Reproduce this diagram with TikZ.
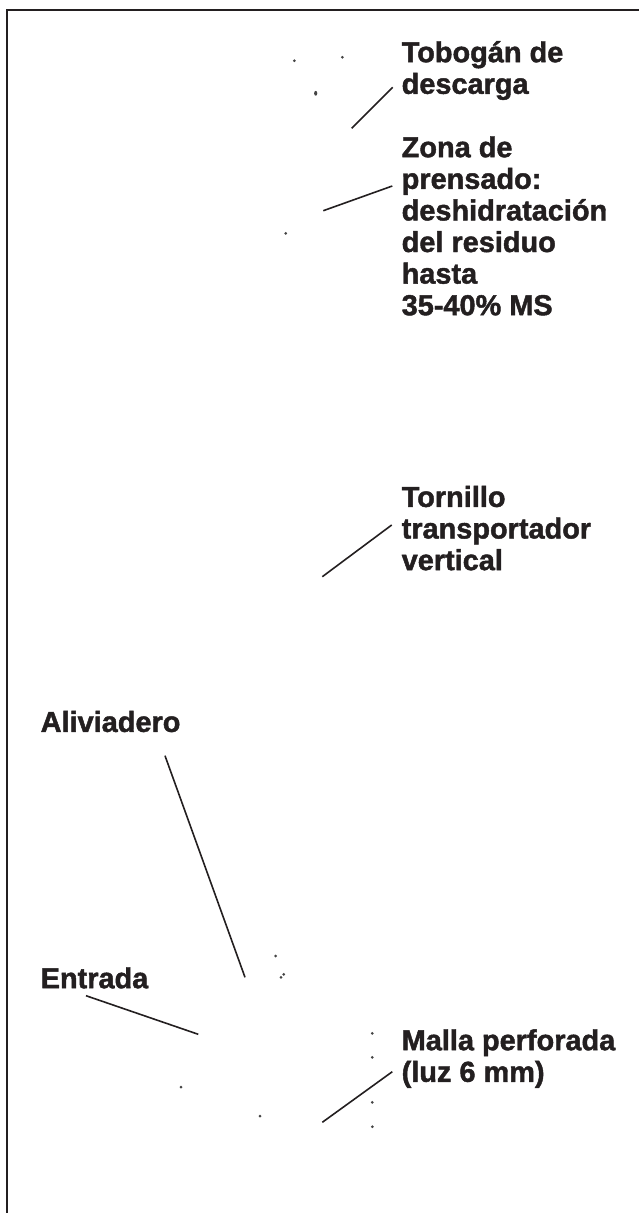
\documentclass[tikz,border=0pt]{standalone}
\usepackage{fontspec}
\setmainfont{Liberation Sans}[BoldFeatures={FakeBold=1.5}]
\definecolor{ink}{HTML}{231F20}
\definecolor{dotgray}{HTML}{444444}
\newcommand\lblstrut{\rule{0pt}{28.5pt}}
\begin{document}
\begin{tikzpicture}[x=1pt,y=-1pt,
  lbl/.style={anchor=north west,inner sep=0pt,align=left,text=ink,
    font={\fontsize{28.9}{31.6}\selectfont\bfseries}},
  leader/.style={draw=ink,line width=1.6pt},
  frameline/.style={draw=ink,line width=2.2pt},
  dotmark/.style={fill=dotgray}]
\useasboundingbox (0,0) rectangle (639,1213);
% frame (top and left edges)
\coordinate (fbl) at (6.7,1214);
\coordinate (ftl) at (6.7,10);
\coordinate (ftr) at (640,10);
\draw[frameline] (fbl) -- (ftl) -- (ftr);
% labels
\node[lbl] (tob) at (401.5,{62-28.5}) {\lblstrut Tobogán de\\descarga};
\node[lbl] (zona) at (401.5,{157-28.5}) {\lblstrut Zona de\\prensado:\\deshidratación\\del residuo\\hasta\\35-40\% MS};
\node[lbl] (torn) at (401.5,{506.7-28.5}) {\lblstrut Tornillo\\transportador\\vertical};
\node[lbl] (ali) at (40.5,{731.7-28.5}) {\lblstrut Aliviadero};
\node[lbl] (ent) at (40.5,{988-28.5}) {\lblstrut Entrada};
\node[lbl] (malla) at (401.5,{1050-28.5}) {\lblstrut Malla perforada\\(luz 6 mm)};
% leader line ends
\coordinate (tobA) at (392.7,87.3);   \coordinate (tobB) at (351.7,128.3);
\coordinate (zonaA) at (392.3,186);   \coordinate (zonaB) at (323.3,210.7);
\coordinate (tornA) at (391.7,525);   \coordinate (tornB) at (322.3,576.7);
\coordinate (aliA) at (165,755.7);    \coordinate (aliB) at (245,977.3);
\coordinate (entA) at (86,995.7);     \coordinate (entB) at (198.3,1034.3);
\coordinate (mallaA) at (392.3,1071.7); \coordinate (mallaB) at (322.3,1122.3);
\draw[leader] (tobA) -- (tobB);
\draw[leader] (zonaA) -- (zonaB);
\draw[leader] (tornA) -- (tornB);
\draw[leader] (aliA) -- (aliB);
\draw[leader] (entA) -- (entB);
\draw[leader] (mallaA) -- (mallaB);
% small dots
\foreach \p in {(294.3,60.7),(342.3,57.3),(285.7,233.3),(275.7,956),(281,977.3),(283.7,974.3),
  (372.3,1033.3),(372.3,1057.3),(372.3,1102.3),(372.3,1126.7),(181,1087),(260,1116)}
  \fill[dotmark] \p circle (1.5);
\fill[dotmark] (315.7,93.3) ellipse (1.6 and 2.4);
\end{tikzpicture}
\end{document}
